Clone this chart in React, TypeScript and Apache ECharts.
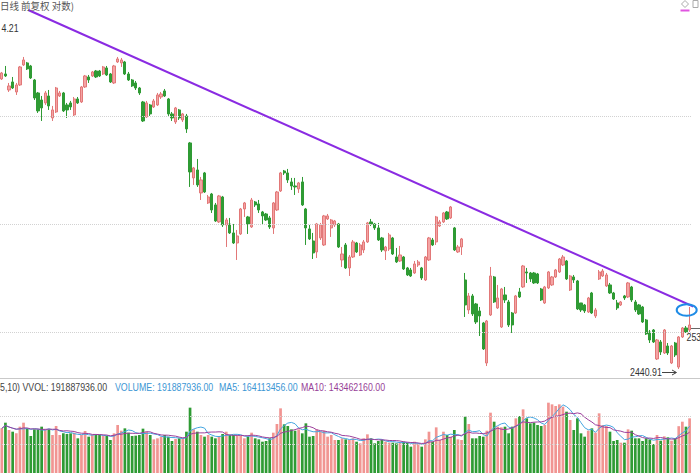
import React, { useEffect, useRef } from 'react';
import * as echarts from 'echarts';

// Daily candles (price, log axis)
const opens = [
  3159.5, 3173.6, 3128.7, 3151.1, 3123.2, 3142.7, 3199.2, 3204.9, 3196.3, 3156.7,
  3120.4, 3101.0, 3092.8, 3112.1, 3051.8, 3068.1, 3112.1, 3120.4, 3087.3, 3092.8,
  3060.0, 3103.8, 3095.5, 3137.1, 3165.1, 3168.0, 3182.1, 3182.1, 3173.6, 3190.6,
  3173.6, 3148.3, 3207.7, 3204.9, 3207.7, 3173.6, 3156.7, 3148.3, 3134.3, 3095.5,
  3054.5, 3087.3, 3081.8, 3087.3, 3109.3, 3126.0, 3103.8, 3062.7, 3040.9, 3073.6,
  3046.3, 3057.2, 2984.7, 2893.2, 2913.8, 2854.8, 2906.1, 2829.5, 2852.2, 2824.5,
  2782.1, 2844.6, 2774.7, 2777.1, 2755.0, 2730.5, 2752.5, 2814.4, 2794.5, 2769.7,
  2832.0, 2827.0, 2806.9, 2801.9, 2792.0, 2767.3, 2811.9, 2859.9, 2911.2, 2906.1,
  2882.9, 2872.6, 2865.0, 2882.9, 2814.4, 2764.8, 2735.4, 2708.8, 2742.7, 2725.7,
  2789.5, 2767.3, 2774.7, 2777.1, 2689.5, 2725.7, 2670.5, 2696.7, 2730.5, 2701.5,
  2713.6, 2733.0, 2782.1, 2777.1, 2767.3, 2742.7, 2711.2, 2716.0, 2742.7, 2696.7,
  2687.1, 2696.7, 2670.5, 2665.7, 2658.6, 2677.6, 2670.5, 2642.1, 2689.5, 2737.8,
  2733.0, 2772.2, 2782.1, 2806.9, 2792.0, 2767.3, 2708.8, 2720.8, 2642.1, 2572.5,
  2604.8, 2586.3, 2570.2, 2542.9, 2453.9, 2561.1, 2649.2, 2577.1, 2533.8, 2607.1,
  2590.9, 2565.6, 2565.6, 2614.1, 2625.7, 2661.0, 2658.6, 2658.6, 2656.3, 2621.0,
  2588.6, 2623.4, 2630.4, 2649.2, 2661.0, 2677.6, 2687.1, 2618.7, 2649.2, 2639.8,
  2588.6, 2584.0, 2567.9, 2611.7, 2558.8, 2644.5, 2651.5, 2628.1, 2630.4, 2611.7,
  2588.6, 2584.0, 2604.8, 2602.5, 2625.7, 2590.9, 2584.0, 2579.4, 2549.7, 2522.6,
  2527.1, 2462.7, 2500.3, 2475.9, 2491.4, 2453.9, 2498.0, 2445.1, 2511.4, 2531.6,
  2527.1,
];
const closes = [
  3176.4, 3168.0, 3139.9, 3134.3, 3142.7, 3193.5, 3213.4, 3187.8, 3162.3, 3106.5,
  3070.9, 3079.1, 3120.4, 3084.6, 3073.6, 3134.3, 3120.4, 3070.9, 3073.6, 3081.8,
  3103.8, 3092.8, 3137.1, 3168.0, 3156.7, 3179.3, 3165.1, 3168.0, 3193.5, 3170.8,
  3151.1, 3196.3, 3216.3, 3213.4, 3173.6, 3156.7, 3139.9, 3134.3, 3120.4, 3043.6,
  3092.8, 3062.7, 3098.3, 3114.9, 3117.6, 3112.1, 3062.7, 3051.8, 3079.1, 3051.8,
  3062.7, 3022.1, 2908.6, 2919.0, 2875.2, 2888.0, 2857.3, 2844.6, 2811.9, 2784.5,
  2847.2, 2774.7, 2787.0, 2755.0, 2730.5, 2747.6, 2814.4, 2829.5, 2777.1, 2837.0,
  2824.5, 2811.9, 2797.0, 2787.0, 2769.7, 2829.5, 2857.3, 2906.1, 2906.1, 2888.0,
  2872.6, 2870.1, 2880.3, 2824.5, 2767.3, 2740.3, 2706.4, 2777.1, 2774.7, 2797.0,
  2797.0, 2787.0, 2784.5, 2720.8, 2703.9, 2670.5, 2696.7, 2733.0, 2708.8, 2725.7,
  2733.0, 2779.6, 2777.1, 2767.3, 2737.8, 2713.6, 2720.8, 2750.1, 2703.9, 2684.8,
  2701.5, 2668.1, 2653.9, 2651.5, 2680.0, 2684.8, 2646.8, 2696.7, 2742.7, 2725.7,
  2794.5, 2782.1, 2804.4, 2789.5, 2819.4, 2713.6, 2720.8, 2740.3, 2584.0, 2604.8,
  2563.4, 2545.2, 2558.8, 2484.7, 2547.4, 2651.5, 2590.9, 2600.1, 2621.0, 2595.5,
  2538.4, 2538.4, 2604.8, 2602.5, 2675.2, 2658.6, 2644.5, 2635.1, 2635.1, 2595.5,
  2625.7, 2661.0, 2649.2, 2665.7, 2691.9, 2696.7, 2644.5, 2651.5, 2642.1, 2574.8,
  2572.5, 2570.2, 2600.1, 2565.6, 2572.5, 2661.0, 2663.3, 2653.9, 2611.7, 2597.8,
  2577.1, 2590.9, 2600.1, 2635.1, 2595.5, 2572.5, 2563.4, 2545.2, 2518.1, 2504.7,
  2500.3, 2504.7, 2478.1, 2527.1, 2475.9, 2491.4, 2471.5, 2511.4, 2531.6, 2522.6,
  2538.4,
];
const lows = [
  3156.7, 3165.1, 3123.2, 3131.5, 3114.9, 3139.9, 3196.3, 3184.9, 3159.5, 3101.0,
  3065.4, 3043.6, 3087.3, 3073.6, 3043.6, 3065.4, 3109.3, 3068.1, 3051.8, 3073.6,
  3057.2, 3090.0, 3092.8, 3134.3, 3148.3, 3165.1, 3162.3, 3165.1, 3170.8, 3168.0,
  3148.3, 3145.5, 3204.9, 3193.5, 3170.8, 3153.9, 3137.1, 3128.7, 3114.9, 3040.9,
  3051.8, 3057.2, 3079.1, 3084.6, 3103.8, 3109.3, 3057.2, 3043.6, 3035.5, 3046.3,
  3040.9, 3011.4, 2870.1, 2875.2, 2870.1, 2837.0, 2854.8, 2827.0, 2804.4, 2782.1,
  2779.6, 2769.7, 2720.8, 2752.5, 2728.1, 2689.5, 2750.1, 2794.5, 2752.5, 2767.3,
  2819.4, 2804.4, 2774.7, 2784.5, 2764.8, 2752.5, 2809.4, 2857.3, 2900.9, 2880.3,
  2862.4, 2849.7, 2854.8, 2821.9, 2725.7, 2737.8, 2691.9, 2694.3, 2737.8, 2723.3,
  2787.0, 2745.2, 2769.7, 2718.4, 2672.9, 2668.1, 2651.5, 2694.3, 2706.4, 2699.1,
  2706.4, 2730.5, 2772.2, 2762.3, 2735.4, 2708.8, 2689.5, 2711.2, 2701.5, 2682.4,
  2684.8, 2665.7, 2651.5, 2649.2, 2656.3, 2672.9, 2642.1, 2639.8, 2687.1, 2723.3,
  2725.7, 2769.7, 2779.6, 2787.0, 2789.5, 2711.2, 2706.4, 2701.5, 2556.5, 2563.4,
  2558.8, 2540.6, 2513.6, 2482.5, 2447.3, 2558.8, 2588.6, 2574.8, 2531.6, 2588.6,
  2533.8, 2520.4, 2563.4, 2600.1, 2623.4, 2635.1, 2637.4, 2632.7, 2632.7, 2593.2,
  2586.3, 2621.0, 2628.1, 2646.8, 2658.6, 2675.2, 2642.1, 2616.4, 2635.1, 2572.5,
  2567.9, 2565.6, 2565.6, 2563.4, 2554.2, 2642.1, 2649.2, 2625.7, 2609.4, 2595.5,
  2572.5, 2581.7, 2595.5, 2600.1, 2590.9, 2567.9, 2561.1, 2542.9, 2515.9, 2498.0,
  2498.0, 2460.5, 2471.5, 2473.7, 2471.5, 2451.7, 2467.1, 2440.91, 2509.2, 2520.4,
  2522.6,
];
const highs = [
  3179.3, 3196.3, 3148.3, 3165.1, 3148.3, 3196.3, 3222.0, 3207.7, 3199.2, 3159.5,
  3123.2, 3112.1, 3126.0, 3128.7, 3084.6, 3137.1, 3126.0, 3123.2, 3092.8, 3098.3,
  3109.3, 3109.3, 3139.9, 3170.8, 3170.8, 3182.1, 3184.9, 3184.9, 3196.3, 3196.3,
  3176.4, 3199.2, 3222.0, 3219.1, 3210.6, 3179.3, 3159.5, 3153.9, 3137.1, 3098.3,
  3098.3, 3090.0, 3103.8, 3120.4, 3123.2, 3131.5, 3106.5, 3068.1, 3081.8, 3076.3,
  3065.4, 3062.7, 2987.3, 2921.6, 2942.4, 2895.7, 2908.6, 2849.7, 2854.8, 2829.5,
  2849.7, 2847.2, 2792.0, 2792.0, 2777.1, 2762.3, 2816.9, 2832.0, 2797.0, 2842.1,
  2834.5, 2837.0, 2809.4, 2804.4, 2797.0, 2832.0, 2859.9, 2908.6, 2913.8, 2916.4,
  2893.2, 2893.2, 2882.9, 2895.7, 2816.9, 2774.7, 2755.0, 2779.6, 2779.6, 2799.5,
  2801.9, 2789.5, 2787.0, 2779.6, 2720.8, 2730.5, 2701.5, 2737.8, 2733.0, 2730.5,
  2737.8, 2782.1, 2789.5, 2779.6, 2779.6, 2745.2, 2723.3, 2755.0, 2745.2, 2718.4,
  2723.3, 2699.1, 2672.9, 2670.5, 2687.1, 2689.5, 2672.9, 2699.1, 2745.2, 2742.7,
  2797.0, 2787.0, 2806.9, 2809.4, 2821.9, 2769.7, 2725.7, 2742.7, 2658.6, 2611.7,
  2609.4, 2588.6, 2579.4, 2545.2, 2549.7, 2672.9, 2651.5, 2630.4, 2623.4, 2625.7,
  2595.5, 2567.9, 2607.1, 2623.4, 2677.6, 2670.5, 2661.0, 2661.0, 2658.6, 2623.4,
  2628.1, 2663.3, 2651.5, 2668.1, 2694.3, 2701.5, 2689.5, 2653.9, 2653.9, 2642.1,
  2588.6, 2586.3, 2602.5, 2614.1, 2577.1, 2665.7, 2668.1, 2658.6, 2635.1, 2614.1,
  2595.5, 2593.2, 2607.1, 2637.4, 2628.1, 2595.5, 2586.3, 2581.7, 2552.0, 2527.1,
  2529.3, 2506.9, 2504.7, 2529.3, 2498.0, 2493.6, 2500.3, 2513.6, 2533.8, 2536.1,
  2579.4,
];
// Volume in millions
const volumes = [
  156.7, 176.6, 150.9, 145.0, 139.2, 162.6, 176.6, 156.7, 129.8, 153.2,
  153.2, 162.6, 153.2, 153.2, 133.3, 164.9, 133.3, 139.2, 136.9, 139.2,
  141.5, 121.7, 133.3, 147.4, 127.5, 133.3, 133.3, 133.3, 129.8, 129.8,
  115.8, 139.2, 168.4, 148.5, 156.7, 141.5, 129.8, 131.0, 133.3, 155.6,
  145.0, 133.3, 118.1, 121.7, 127.5, 133.3, 127.5, 112.3, 119.3, 121.7,
  121.7, 145.0, 229.3, 153.2, 145.0, 133.3, 127.5, 133.3, 127.5, 121.7,
  129.8, 136.9, 145.0, 133.3, 133.3, 129.8, 129.8, 121.7, 127.5, 141.5,
  121.7, 118.1, 109.9, 112.3, 121.7, 141.5, 171.9, 226.9, 170.8, 164.9,
  153.2, 148.5, 153.2, 139.2, 174.3, 127.5, 129.8, 153.2, 145.0, 148.5,
  127.5, 133.3, 115.8, 115.8, 121.7, 118.1, 115.8, 121.7, 109.9, 104.1,
  121.7, 135.7, 121.7, 104.1, 112.3, 115.8, 109.9, 106.4, 106.4, 104.1,
  106.4, 109.9, 106.4, 92.4, 109.9, 101.8, 92.4, 118.1, 145.0, 109.9,
  160.2, 115.8, 145.0, 133.3, 127.5, 150.9, 118.1, 115.8, 197.7, 171.9,
  121.7, 121.7, 129.8, 127.5, 148.5, 211.7, 180.1, 162.6, 160.2, 162.6,
  139.2, 162.6, 191.8, 200.0, 223.4, 191.8, 174.3, 176.6, 168.4, 164.9,
  168.4, 246.8, 240.9, 235.1, 240.9, 232.8, 215.2, 186.0, 150.9, 191.8,
  139.2, 127.5, 148.5, 156.7, 141.5, 209.4, 168.4, 164.9, 145.0, 112.3,
  115.8, 106.4, 106.4, 153.2, 148.5, 121.7, 121.7, 112.3, 121.7, 118.1,
  101.8, 133.3, 113.4, 128.7, 125.2, 113.4, 121.7, 164.3, 180.1, 162.6,
  191.887936,
];
const categories = opens.map((_, i) => String(i + 1));
const priceGridLevels = [3057.2, 2777.1, 2522.6];
const volumeGridLevels = [100, 200];
const trendLinePoints = [
  [7.3, 3359.4],
  [192.9, 2573.4],
];
const legendTexts = [
  { text: '5,10) VVOL: 191887936.00', color: '#444444' },
  { text: 'VOLUME: 191887936.00', color: '#3b96d4' },
  { text: 'MA5: 164113456.00', color: '#3b96d4' },
  { text: 'MA10: 143462160.00', color: '#973f97' },
];

function movingAverage(values: number[], n: number) {
  return values.map((_, i) => {
    const from = Math.max(0, i - n + 1);
    let s = 0;
    for (let k = from; k <= i; k++) s += values[k];
    return +(s / (i - from + 1)).toFixed(3);
  });
}

export default function App() {
  const ref = useRef<HTMLDivElement>(null);
  useEffect(() => {
    const el = ref.current as HTMLDivElement;
    const chart = echarts.init(el, null, { renderer: 'svg' });
    const N = opens.length;
    const band = 3.62;
    const gridW = N * band;
    const UP = '#f4a3a3';
    const UP_BORDER = '#e27878';
    const DOWN = '#2f9b34';
    const candleData = opens.map((o, i) => [o, closes[i], lows[i], highs[i]]);
    const volData = volumes.map((v, i) => ({
      value: v,
      itemStyle: { color: closes[i] >= opens[i] ? '#f19592' : DOWN },
    }));
    const lowest = Math.min(...lows);
    const narrow = '11px "Liberation Sans", Arial, sans-serif';
    const legendX = [0, 115, 219, 301];
    const txt = (text: string, x: number, y: number, fill: string, scaleX = 0.8, font = narrow) => ({
      type: 'text',
      x,
      y,
      scaleX,
      silent: true,
      z: 50,
      style: {
        text,
        fill,
        font,
        align: 'left',
        textAlign: 'left',
        verticalAlign: 'middle',
        textVerticalAlign: 'middle',
      },
    });

    const option: any = {
      animation: false,
      backgroundColor: '#ffffff',
      grid: [
        { left: 0, top: 20, width: gridW, height: 358 },
        { left: 0, top: 388, width: gridW, height: 85 },
      ],
      xAxis: [
        { type: 'category', gridIndex: 0, data: categories, boundaryGap: true, show: false },
        { type: 'category', gridIndex: 1, data: categories, boundaryGap: true, show: false },
        { type: 'value', gridIndex: 0, min: -0.5, max: N - 0.5, show: false },
      ],
      yAxis: [
        { type: 'log', gridIndex: 0, min: 2421.4, max: 3329.7, show: false, logBase: 10 },
        { type: 'value', gridIndex: 1, min: 0, max: 298.3, show: false },
      ],
      series: [
        {
          type: 'candlestick',
          xAxisIndex: 0,
          yAxisIndex: 0,
          data: candleData,
          barWidth: 2.7,
          itemStyle: {
            color: UP,
            color0: DOWN,
            borderColor: UP_BORDER,
            borderColor0: DOWN,
            borderWidth: 1,
          },
          markLine: {
            silent: true,
            symbol: 'none',
            label: { show: false },
            lineStyle: { color: '#d2d2d2', type: 'dotted', width: 1 },
            data: priceGridLevels.map((v) => ({ yAxis: v })),
          },
        },
        {
          type: 'line',
          xAxisIndex: 2,
          yAxisIndex: 0,
          data: trendLinePoints,
          symbol: 'none',
          clip: false,
          silent: true,
          z: 10,
          lineStyle: { color: '#8a2be2', width: 2 },
        },
        {
          type: 'bar',
          xAxisIndex: 1,
          yAxisIndex: 1,
          data: volData,
          barWidth: 2.7,
          markLine: {
            silent: true,
            symbol: 'none',
            label: { show: false },
            lineStyle: { color: '#d2d2d2', type: 'dotted', width: 1 },
            data: volumeGridLevels.map((v) => ({ yAxis: v })),
          },
        },
        {
          type: 'line',
          xAxisIndex: 1,
          yAxisIndex: 1,
          data: movingAverage(volumes, 5),
          symbol: 'none',
          silent: true,
          lineStyle: { color: '#45a5e0', width: 1 },
        },
        {
          type: 'line',
          xAxisIndex: 1,
          yAxisIndex: 1,
          data: movingAverage(volumes, 10),
          symbol: 'none',
          silent: true,
          lineStyle: { color: '#9c3f9c', width: 1 },
        },
      ],
      graphic: {
        elements: [
          {
            type: 'line',
            silent: true,
            shape: { x1: 0, y1: 378.5, x2: 700, y2: 378.5 },
            style: { stroke: '#c9c9c9', lineWidth: 1 },
          },
          txt('日线 前复权 对数)', 0, 6, '#555555', 0.95, '10px "Noto Sans CJK SC", sans-serif'),
          txt('4.21', 1.5, 28.5, '#333333'),
          ...legendTexts.map((l, k) => txt(l.text, legendX[k], 387, l.color)),
          txt(lowest.toFixed(2), 630, 372.5, '#333333'),
          {
            type: 'line',
            silent: true,
            shape: { x1: 662, y1: 372.5, x2: 676, y2: 372.5 },
            style: { stroke: '#444444', lineWidth: 1 },
          },
          {
            type: 'polyline',
            silent: true,
            shape: { points: [[672, 370], [676.5, 372.5], [672, 375]] },
            style: { stroke: '#444444', lineWidth: 1, fill: 'rgba(0,0,0,0)' },
          },
          {
            type: 'polyline',
            silent: true,
            shape: { points: [[684, 333], [684, 328.5], [700, 328.5]] },
            style: { stroke: '#666666', lineWidth: 1, fill: 'rgba(0,0,0,0)' },
          },
          txt('253', 686.5, 337, '#333333'),
          {
            type: 'ellipse',
            silent: true,
            z: 60,
            shape: { cx: 686.7, cy: 310, rx: 10, ry: 5.7 },
            style: { stroke: '#1f8ce6', lineWidth: 2, fill: 'rgba(0,0,0,0)' },
          },
          {
            type: 'polygon',
            silent: true,
            shape: { points: [[685, 0.5], [688.5, 4], [685, 7.5], [681.5, 4]] },
            style: { stroke: '#aaaaaa', lineWidth: 1, fill: 'rgba(0,0,0,0)' },
          },
          {
            type: 'rect',
            silent: true,
            shape: { x: 693, y: 0.5, width: 5, height: 7 },
            style: { stroke: '#aaaaaa', lineWidth: 1, fill: 'rgba(0,0,0,0)' },
          },
          {
            type: 'rect',
            silent: true,
            shape: { x: 680.5, y: 9.5, width: 9, height: 2 },
            style: { fill: '#e055e0' },
          },
        ],
      },
    };
    chart.setOption(option);
    return () => chart.dispose();
  }, []);
  return (
    <div
      ref={ref}
      style={{ position: 'fixed', left: 0, top: 0, width: 700, height: 473, background: '#ffffff' }}
    />
  );
}
